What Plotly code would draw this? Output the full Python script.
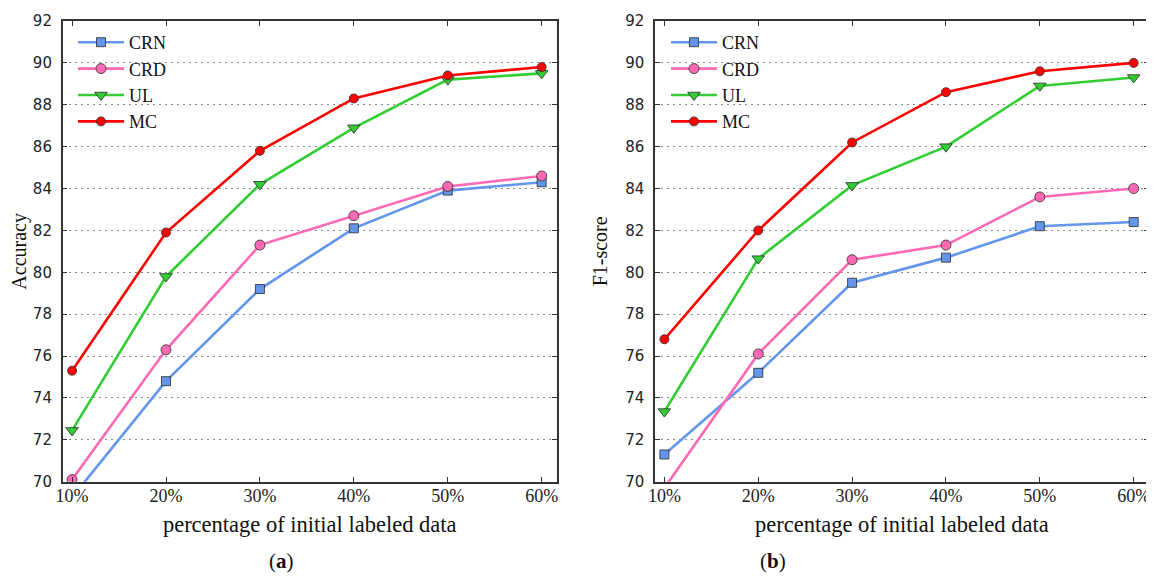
import plotly.graph_objects as go

# ---- data ----
pct = [10, 20, 30, 40, 50, 60]
pct_labels = ["10%", "20%", "30%", "40%", "50%", "60%"]
y_ticks = [70, 72, 74, 76, 78, 80, 82, 84, 86, 88, 90, 92]

series_names = ["CRN", "CRD", "UL", "MC"]

acc_crn = [69.25, 74.8, 79.2, 82.1, 83.9, 84.3]
acc_crd = [70.1, 76.3, 81.3, 82.7, 84.1, 84.6]
acc_ul = [72.45, 79.8, 84.2, 86.9, 89.2, 89.5]
acc_mc = [75.3, 81.9, 85.8, 88.3, 89.4, 89.8]

f1_crn = [71.3, 75.2, 79.5, 80.7, 82.2, 82.4]
f1_crd = [69.7, 76.1, 80.6, 81.3, 83.6, 84.0]
f1_ul = [73.35, 80.65, 84.15, 86.0, 88.9, 89.3]
f1_mc = [76.8, 82.0, 86.2, 88.6, 89.6, 90.0]

# ---- styles ----
colors = {"CRN": "#6495ED", "CRD": "#FF69B4", "UL": "#32CD32", "MC": "#FF0000"}
symbols = {"CRN": "square", "CRD": "circle", "UL": "triangle-down", "MC": "circle"}
sizes = {"CRN": 9, "CRD": 10, "UL": 11, "MC": 9}

SERIF = "Liberation Serif"
SANS = "DejaVu Sans"

fig = go.Figure()

panels = [
    ("x", "y", "legend", [acc_crn, acc_crd, acc_ul, acc_mc]),
    ("x2", "y2", "legend2", [f1_crn, f1_crd, f1_ul, f1_mc]),
]
for xa, ya, lg, data in panels:
    for name, vals in zip(series_names, data):
        fig.add_trace(go.Scatter(
            x=pct, y=vals, name=name, mode="lines+markers",
            xaxis=xa, yaxis=ya, legend=lg,
            line=dict(color=colors[name], width=2.6),
            marker=dict(symbol=symbols[name], size=sizes[name], color=colors[name],
                        line=dict(color="rgba(50,50,50,0.85)", width=1)),
        ))

# page body has an 8px margin, so figure coords = screen coords - 8
OFF = 8
W, H = 1154 - OFF, 588 - OFF


def px_x(v):
    return (v - OFF) / W


def px_y(v):
    return 1 - (v - OFF) / H


ydom = [px_y(481.7), px_y(21)]
xdom1 = [px_x(62.7), px_x(556.7)]
xdom2 = [px_x(655), px_x(1148.7)]

axis_common = dict(
    showline=True, linecolor="#333333", linewidth=1.5, mirror="allticks",
    ticks="inside", ticklen=5, tickcolor="#333333", tickwidth=1,
    zeroline=False, automargin=False,
)
xaxis_common = dict(
    axis_common, range=[9.0, 61.6], tickmode="array", tickvals=pct, ticktext=pct_labels,
    showgrid=False, tickfont=dict(family=SERIF, size=18, color="#222"),
    ticklabelstandoff=-3,
    title=dict(text="percentage of initial labeled data",
               font=dict(family=SERIF, size=22.5, color="#111"), standoff=11),
)
yaxis_common = dict(
    axis_common, range=[70, 92], tickmode="array", tickvals=y_ticks,
    showgrid=True, gridcolor="#8a8a8a", griddash="2px,4px", gridwidth=1,
    tickfont=dict(family=SANS, size=15, color="#222"), ticklabelstandoff=6,
)

legend_common = dict(
    font=dict(family=SERIF, size=18, color="#111"), bgcolor="rgba(0,0,0,0)",
    borderwidth=0, xanchor="left", yanchor="top", tracegroupgap=0, itemwidth=46,
)

fig.update_layout(
    width=W, height=H, margin=dict(l=0, r=0, t=0, b=0, autoexpand=False),
    paper_bgcolor="white", plot_bgcolor="white",
    xaxis=dict(xaxis_common, domain=xdom1, anchor="y"),
    yaxis=dict(yaxis_common, domain=ydom, anchor="x",
               title=dict(text="Accuracy", font=dict(family=SERIF, size=20, color="#111"), standoff=12)),
    xaxis2=dict(xaxis_common, domain=xdom2, anchor="y2"),
    yaxis2=dict(yaxis_common, domain=ydom, anchor="x2",
                title=dict(text="F1-score", font=dict(family=SERIF, size=20, color="#111"), standoff=12)),
    legend=dict(legend_common, x=px_x(73), y=px_y(24)),
    legend2=dict(legend_common, x=px_x(666), y=px_y(24)),
    annotations=[
        dict(text="(<b>a</b>)", x=px_x(267), y=px_y(575), xref="paper", yref="paper",
             showarrow=False, font=dict(family=SERIF, size=21, color="#111")),
        dict(text="(<b>b</b>)", x=px_x(788), y=px_y(575), xref="paper", yref="paper",
             showarrow=False, font=dict(family=SERIF, size=21, color="#111")),
    ],
)

fig.write_html("out.html")
